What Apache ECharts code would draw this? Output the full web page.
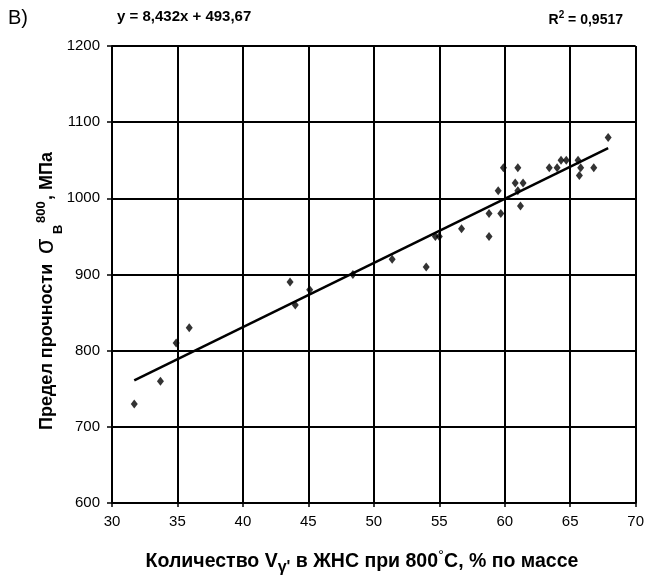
<!DOCTYPE html>
<html>
<head>
<meta charset="utf-8">
<script src="https://cdn.jsdelivr.net/npm/echarts@6/dist/echarts.min.js"></script>
<style>
  html, body { margin: 0; padding: 0; background: #fff; }
  #chart { width: 647px; height: 584px; }
</style>
</head>
<body>
<div id="chart"></div>
<script>
// Точки: содержание V_gamma' (% по массе) и предел прочности (МПа)
const pointX = [31.7, 33.7, 34.9, 35.9, 43.6, 44.0, 45.1, 48.4, 51.4, 54.0,
                54.7, 55.0, 56.7, 58.8, 58.8, 59.7, 59.5, 59.9, 60.8, 61.4,
                61.0, 61.2, 61.0, 63.4, 64.0, 64.3, 64.7, 65.6, 65.8, 65.7,
                66.8, 67.9];
const pointY = [730, 760, 810, 830, 890, 860, 880, 900, 920, 910,
                950, 950, 960, 950, 980, 980, 1010, 1040, 1020, 1020,
                1040, 990, 1010, 1040, 1040, 1050, 1050, 1050, 1040, 1030,
                1040, 1080];
// линия тренда (концы)
const trendX = [31.7, 67.9];
const trendY = [761, 1066];

const xTicks = [30, 70, 5];
const yTicks = [600, 1200, 100];

const eqText = 'y = 8,432x + 493,67';
const r2Text = '0,9517';

let chart = echarts.init(document.getElementById('chart'));
const FF = '"Liberation Sans", Arial, sans-serif';

let option = {
    backgroundColor: '#fff',
    animation: false,
    grid: { left: 112, right: 10, top: 46, bottom: 81 },
    xAxis: {
        type: 'value',
        min: xTicks[0], max: xTicks[1], interval: xTicks[2],
        axisLine: { lineStyle: { color: '#000', width: 2 } },
        axisTick: { show: true, length: 4, lineStyle: { color: '#000', width: 1.5 } },
        axisLabel: { color: '#000', fontSize: 15, fontFamily: FF, margin: 11 },
        splitLine: { show: true, lineStyle: { color: '#000', width: 2 } }
    },
    yAxis: {
        type: 'value',
        min: yTicks[0], max: yTicks[1], interval: yTicks[2],
        axisLine: { show: true, lineStyle: { color: '#000', width: 2 } },
        axisTick: { show: true, length: 5, lineStyle: { color: '#000', width: 1.5 } },
        axisLabel: { color: '#000', fontSize: 15, fontFamily: FF, margin: 12,
                     formatter: v => String(v) },
        splitLine: { show: true, lineStyle: { color: '#000', width: 2 } }
    },
    graphic: [
        { type: 'text', left: 8, top: 8,
          style: { text: 'В)', font: '20px ' + FF, fill: '#000' } },
        { type: 'text', left: 117, top: 9,
          style: { text: eqText, font: 'bold 15px ' + FF, fill: '#000' } },
        { type: 'text', right: 24, top: 10,
          style: {
              text: '{a|R}{s|2}{a| = ' + r2Text + '}',
              rich: {
                  a: { fontSize: 14, fontWeight: 'bold', fontFamily: FF, lineHeight: 17, verticalAlign: 'bottom', fill: '#000' },
                  s: { fontSize: 10, fontWeight: 'bold', fontFamily: FF, lineHeight: 10, verticalAlign: 'top', fill: '#000' }
              }
          } },
        // подпись оси Y (повёрнутая)
        { type: 'group', x: 54, y: 430, rotation: Math.PI / 2,
          children: [
              { type: 'text', style: { text: 'Предел прочности', x: 0, y: -7, font: 'bold 18px ' + FF, fill: '#000', textAlign: 'left', textVerticalAlign: 'middle' } },
              { type: 'text', style: { text: 'σ', x: 176, y: -8, font: '25px ' + FF, fill: '#000', textAlign: 'left', textVerticalAlign: 'middle' } },
              { type: 'text', style: { text: 'В', x: 196, y: 4, font: 'bold 13px ' + FF, fill: '#000', textAlign: 'left', textVerticalAlign: 'middle' } },
              { type: 'text', style: { text: '800', x: 207, y: -13, font: 'bold 13px ' + FF, fill: '#000', textAlign: 'left', textVerticalAlign: 'middle' } },
              { type: 'text', style: { text: ', МПа', x: 230, y: -7, font: 'bold 18px ' + FF, fill: '#000', textAlign: 'left', textVerticalAlign: 'middle' } }
          ] },
        // подпись оси X
        { type: 'text', x: 362, y: 562,
          style: {
              text: '{a|Количество V}{b|γ\'}{a| в ЖНС при 800}{c|°}{a|С, % по массе}',
              textAlign: 'center', textVerticalAlign: 'middle',
              rich: {
                  a: { fontSize: 19.5, fontWeight: 'bold', fontFamily: FF, lineHeight: 28, fill: '#000' },
                  b: { fontSize: 16, fontWeight: 'bold', fontFamily: FF, lineHeight: 16, verticalAlign: 'bottom', fill: '#000' },
                  c: { fontSize: 15, fontFamily: FF, lineHeight: 15, verticalAlign: 'top', fill: '#000' }
              }
          } }
    ],
    series: [
        {
            type: 'scatter',
            symbol: 'diamond',
            symbolSize: [7, 9],
            itemStyle: { color: '#000' },
            data: pointX.map((x, i) => [x, pointY[i]]),
            z: 3
        },
        {
            type: 'line',
            showSymbol: false,
            symbol: 'none',
            lineStyle: { color: '#000', width: 2.5 },
            data: trendX.map((x, i) => [x, trendY[i]]),
            z: 2
        }
    ]
};

chart.setOption(option);
</script>
</body>
</html>
